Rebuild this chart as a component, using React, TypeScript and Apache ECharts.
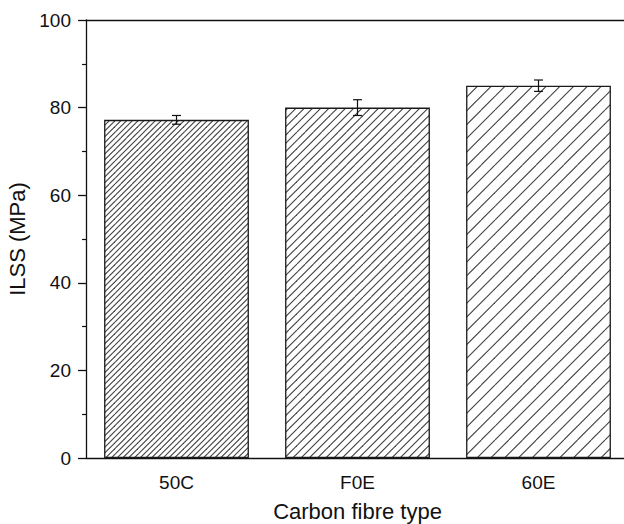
import React, { useEffect, useRef } from "react";
import * as echarts from "echarts";

const categories = ["50C", "F0E", "60E"];
const ilss = [77.2, 80.0, 85.0];
const ilssErr = [1.0, 1.8, 1.3];
const hatchPeriods = [5.7, 8.3, 13.7];
const yTicks = { min: 0, max: 100, interval: 20 };

function makeHatch(p: number): HTMLCanvasElement {
  const c = document.createElement("canvas");
  const s = Math.round(p * 10) / 10;
  c.width = Math.round(s * 4);
  c.height = Math.round(s * 4);
  const w = c.width;
  const ctx = c.getContext("2d")!;
  ctx.fillStyle = "#ffffff";
  ctx.fillRect(0, 0, w, w);
  ctx.strokeStyle = "#404040";
  ctx.lineWidth = 1.1;
  const step = w / 4;
  for (let k = -w; k <= w; k += step) {
    ctx.beginPath();
    ctx.moveTo(k, w);
    ctx.lineTo(k + w, 0);
    ctx.stroke();
  }
  return c;
}

export default function App() {
  const ref = useRef<HTMLDivElement>(null);
  useEffect(() => {
    if (!ref.current) return;
    const chart = echarts.init(ref.current, undefined, { renderer: "svg" });
    const font = "'Liberation Sans', Arial, sans-serif";
    const barData = ilss.map((v, i) => {
      const img = makeHatch(hatchPeriods[i]);
      return {
        value: v,
        itemStyle: {
          color: { image: img, repeat: "repeat", imageWidth: img.width, imageHeight: img.height } as any,
          borderColor: "#1a1a1a",
          borderWidth: 1.3,
        },
      };
    });
    chart.setOption({
      animation: false,
      backgroundColor: "#ffffff",
      grid: { left: 86, top: 20, height: 438, width: 543, outerBoundsMode: "none", containLabel: false },
      xAxis: [
        {
          type: "category",
          data: categories,
          boundaryGap: true,
          name: "Carbon fibre type",
          nameLocation: "middle",
          nameGap: 42,
          nameTextStyle: { fontFamily: font, fontSize: 22, color: "#111" },
          axisLine: { lineStyle: { color: "#111", width: 1.3 } },
          axisTick: { alignWithLabel: true, length: 8, lineStyle: { color: "#111", width: 1.3 } },
          axisLabel: { fontFamily: font, fontSize: 19, color: "#111", margin: 15 },
          splitLine: { show: false },
        },
        {
          type: "category",
          data: categories,
          position: "top",
          axisLine: { lineStyle: { color: "#111", width: 1.3 } },
          axisTick: { show: false },
          axisLabel: { show: false },
          splitLine: { show: false },
        },
      ],
      yAxis: {
        type: "value",
        min: yTicks.min,
        max: yTicks.max,
        interval: yTicks.interval,
        name: "ILSS (MPa)",
        nameLocation: "middle",
        nameGap: 57,
        nameTextStyle: { fontFamily: font, fontSize: 22, color: "#111" },
        axisLine: { show: true, lineStyle: { color: "#111", width: 1.3 } },
        axisTick: { show: true, length: 8, lineStyle: { color: "#111", width: 1.3 } },
        minorTick: { show: true, splitNumber: 2, length: 4, lineStyle: { color: "#111", width: 1.2 } },
        axisLabel: { fontFamily: font, fontSize: 19, color: "#111", margin: 15 },
        splitLine: { show: false },
      },
      series: [
        {
          type: "bar",
          data: barData,
          barWidth: "80%",
          xAxisIndex: 0,
        },
        {
          type: "custom",
          xAxisIndex: 0,
          data: ilss.map((v, i) => [i, v - ilssErr[i], v + ilssErr[i]]),
          renderItem: (params: any, api: any) => {
            const x = api.value(0);
            const lo = api.coord([x, api.value(1)]);
            const hi = api.coord([x, api.value(2)]);
            const hw = 4.5;
            const st = { stroke: "#111", lineWidth: 1.2 };
            return {
              type: "group",
              children: [
                { type: "line", shape: { x1: lo[0], y1: lo[1], x2: hi[0], y2: hi[1] }, style: st },
                { type: "line", shape: { x1: lo[0] - hw, y1: lo[1], x2: lo[0] + hw, y2: lo[1] }, style: st },
                { type: "line", shape: { x1: hi[0] - hw, y1: hi[1], x2: hi[0] + hw, y2: hi[1] }, style: st },
              ],
            };
          },
          z: 5,
        },
      ],
    });
    return () => chart.dispose();
  }, []);
  return (
    <div
      ref={ref}
      style={{ position: "absolute", left: 0, top: 0, width: 624, height: 524, background: "#fff" }}
    />
  );
}
